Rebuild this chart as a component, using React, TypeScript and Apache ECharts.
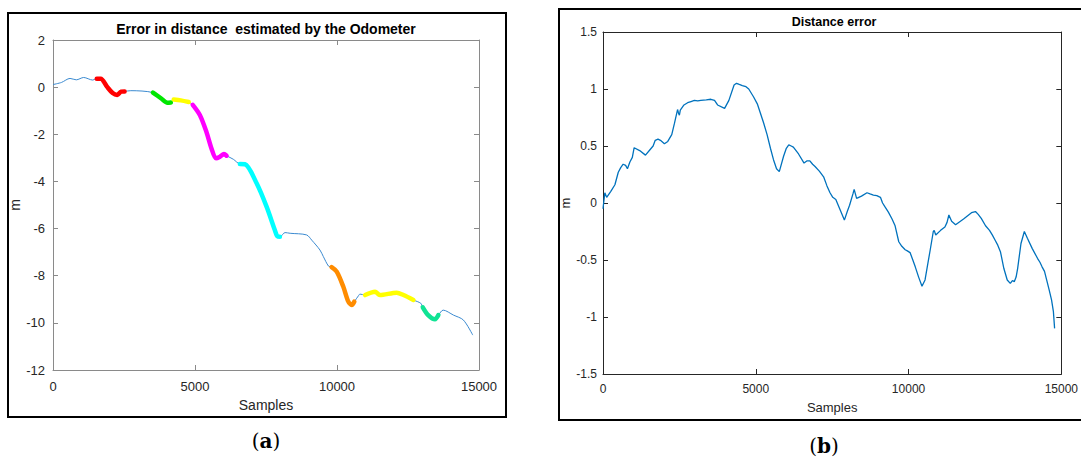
import React, { useEffect, useRef } from "react";
import * as echarts from "echarts";

// ---------- Panel (a): odometer distance error ----------
const leftSamples = [
  0, 300, 600, 820, 1080, 1400, 1540, 1680, 1900, 2100, 2260, 2400, 2520,
  2740, 3520, 3800, 4030, 4150, 4250, 4500, 4780, 4920, 5170, 5400, 5580,
  5740, 5880, 6020, 6110, 6350, 6580, 6760, 7170, 7520, 7810, 7900, 7990,
  8170, 8350, 8930, 9110, 9400, 9520, 9700, 9810, 9990, 10220, 10400, 10520,
  10610, 10750, 10810, 10990, 11340, 11510, 12100, 12340, 12690, 12950,
  13020, 13210, 13450, 13570, 13740, 14100, 14450, 14780,
];
const leftError = [
  0.11, 0.2, 0.37, 0.31, 0.41, 0.3, 0.36, 0.36, 0.02, -0.25, -0.33, -0.19, -0.18,
  -0.15, -0.23, -0.47, -0.66, -0.65, -0.52, -0.56, -0.63, -0.75, -1.18, -1.89, -2.6,
  -3.02, -2.95, -2.84, -2.91, -3.06, -3.26, -3.27, -4.08, -5.07, -6.06, -6.33, -6.35,
  -6.17, -6.2, -6.27, -6.49, -6.91, -7.19, -7.59, -7.64, -7.83, -8.46, -9.1, -9.24,
  -9.1, -8.86, -8.78, -8.82, -8.68, -8.82, -8.72, -8.82, -9.03, -9.17,
  -9.34, -9.67, -9.85, -9.67, -9.46, -9.67, -9.88, -10.52,
];
// highlighted stretches of the odometer error (sample ranges)
const segmentStart = [1540, 3520, 4250, 4920, 6580, 9810, 10990, 13020];
const segmentEnd = [2520, 4150, 4780, 6110, 7990, 10610, 12690, 13570];
const segmentColors = [
  "#ff0000", "#00e600", "#ffff00", "#ff00ff", "#00ffff", "#ff8c00", "#ffff00", "#10e394",
];

// ---------- Panel (b): distance error ----------
const rightSamples = [
  0, 60, 120, 250, 390, 500, 580, 660, 740, 800, 880, 960, 1020, 1200, 1390, 1530,
  1640, 1710, 1800, 1880, 2010, 2120, 2250, 2340, 2440, 2470, 2500, 2530, 2650,
  2770, 2880, 2990, 3100, 3200, 3380, 3530, 3650, 3750, 3980, 4120,
  4290, 4370, 4460, 4560, 4680, 4770, 4930, 5050, 5150, 5260, 5370, 5480, 5580,
  5680, 5770, 5910, 6000, 6080, 6160, 6230, 6400, 6580, 6680, 6770, 6860, 6940,
  7080, 7220, 7330, 7430, 7520, 7620, 7760, 7900, 8000, 8070, 8180, 8220, 8300,
  8460, 8640, 8740, 8850, 8960, 9080, 9150, 9220, 9340, 9460, 9560, 9680, 9780,
  9890, 9960, 10050, 10140, 10220, 10330, 10440, 10540, 10620, 10710, 10810,
  10840, 10890, 11050, 11190, 11260, 11320, 11410, 11540, 11800, 12060, 12190,
  12280, 12380, 12520, 12650, 12740, 12830, 12920, 13010, 13120, 13230, 13330,
  13400, 13460, 13520, 13570, 13680, 13790, 13890, 14050, 14220, 14300, 14370,
  14450, 14520, 14600, 14680, 14740, 14780,
];
const rightError = [
  -0.05, 0.09, 0.05, 0.1, 0.16, 0.27, 0.31, 0.34, 0.33, 0.3, 0.36, 0.4, 0.485, 0.46, 0.42, 0.465,
  0.5, 0.55, 0.56, 0.55, 0.52, 0.54, 0.6, 0.7, 0.82, 0.79, 0.77, 0.815, 0.86,
  0.88, 0.89, 0.9, 0.895, 0.9, 0.905, 0.91, 0.9, 0.86, 0.83, 0.9,
  1.035, 1.05, 1.04, 1.03, 1.02, 1.0, 0.93, 0.87, 0.79, 0.7, 0.6, 0.48, 0.38,
  0.3, 0.275, 0.41, 0.48, 0.51, 0.5, 0.49, 0.43, 0.35, 0.37, 0.37, 0.34, 0.32,
  0.28, 0.23, 0.15, 0.09, 0.05, 0.03, -0.06, -0.15, -0.07, -0.02, 0.08, 0.12, 0.04,
  0.06, 0.09, 0.08, 0.07, 0.065, 0.05, 0.0, -0.03, -0.08, -0.14, -0.2, -0.34, -0.38,
  -0.41, -0.42, -0.435, -0.5, -0.56, -0.65, -0.73, -0.675, -0.55, -0.41, -0.25,
  -0.24, -0.28, -0.24, -0.21, -0.17, -0.105, -0.16, -0.19, -0.14, -0.085, -0.075,
  -0.1, -0.135, -0.2, -0.24, -0.28, -0.325, -0.37, -0.43, -0.575, -0.675, -0.705,
  -0.68, -0.69, -0.65, -0.575, -0.355, -0.25, -0.31, -0.4, -0.485, -0.52, -0.56,
  -0.6, -0.675, -0.76, -0.85, -0.95, -1.1,
];

const leftTicks = { min: -12, max: 2, interval: 2 };
const rightTicks = { min: -1.5, max: 1.5, interval: 0.5 };
const sampleTicks = { min: 0, max: 15000, interval: 5000 };

const FONT = "'Liberation Sans', Arial, sans-serif";

export default function App() {
  const ref = useRef<HTMLDivElement>(null);

  useEffect(() => {
    document.body.style.margin = "0";
    if (!ref.current) return;
    const chart = echarts.init(ref.current, null, { renderer: "svg" });

    const leftPts = leftSamples.map((s, i) => [s, leftError[i]]);
    const rightPts = rightSamples.map((s, i) => [s, rightError[i]]);

    const leftAxisColor = "#8a8a8a";
    const rightAxisColor = "#262626";
    const plain = (v: number) => String(v);

    const xBase = (grid: number, pos: "bottom" | "top", color: string, fs: number, margin: number, labels: boolean, nameGap: number) => ({
      type: "value",
      gridIndex: grid,
      position: pos,
      ...sampleTicks,
      axisLine: { show: true, onZero: false, lineStyle: { color, width: 1 } },
      axisTick: { show: true, inside: true, length: 5, lineStyle: { color } },
      axisLabel: {
        show: labels,
        color: "#262626",
        fontSize: fs,
        fontFamily: FONT,
        margin,
        formatter: plain,
        showMaxLabel: true,
        showMinLabel: true,
      },
      splitLine: { show: false },
      name: labels ? "Samples" : "",
      nameLocation: "middle",
      nameGap,
      nameTextStyle: { color: "#262626", fontSize: fs + 1, fontFamily: FONT },
    });

    const yBase = (grid: number, pos: "left" | "right", ticks: any, color: string, fs: number, margin: number, labels: boolean, nameGap: number) => ({
      type: "value",
      gridIndex: grid,
      position: pos,
      ...ticks,
      axisLine: { show: true, onZero: false, lineStyle: { color, width: 1 } },
      axisTick: { show: true, inside: true, length: 5, lineStyle: { color } },
      axisLabel: {
        show: labels,
        color: "#262626",
        fontSize: fs,
        fontFamily: FONT,
        margin,
        formatter: plain,
        showMaxLabel: true,
        showMinLabel: true,
      },
      splitLine: { show: false },
      name: labels ? "m" : "",
      nameLocation: "middle",
      nameRotate: 90,
      nameGap,
      nameTextStyle: { color: "#262626", fontSize: fs + 1, fontFamily: FONT },
    });

    const segSeries = segmentColors.map((c, k) => ({
      type: "line",
      xAxisIndex: 0,
      yAxisIndex: 0,
      showSymbol: false,
      smooth: 0.3,
      data: leftPts.filter((p) => p[0] >= segmentStart[k] && p[0] <= segmentEnd[k]),
      lineStyle: { color: c, width: 4.5, cap: "round", join: "round" },
      z: 3,
    }));

    const label = (txt: string, x: number, y: number) => ({
      type: "text",
      x,
      y,
      style: {
        text: `{p|(}{b|${txt}}{p|)}`,
        align: "center",
        verticalAlign: "middle",
        rich: {
          p: { fontFamily: "'DejaVu Serif', serif", fontSize: 20, fill: "#000" },
          b: { fontFamily: "'DejaVu Serif', serif", fontSize: 20, fontWeight: "bold", fill: "#000" },
        },
      },
    });

    chart.setOption({
      animation: false,
      backgroundColor: "#ffffff",
      grid: [
        { left: 53, top: 40, width: 426, height: 330 },
        { left: 603, top: 32, width: 462, height: 342 },
      ],
      xAxis: [
        xBase(0, "bottom", leftAxisColor, 13, 10, true, 28),
        xBase(0, "top", leftAxisColor, 13, 10, false, 0),
        xBase(1, "bottom", rightAxisColor, 12, 9, true, 27),
        xBase(1, "top", rightAxisColor, 12, 9, false, 0),
      ],
      yAxis: [
        yBase(0, "left", leftTicks, leftAxisColor, 13, 8, true, 30),
        yBase(0, "right", leftTicks, leftAxisColor, 13, 8, false, 0),
        yBase(1, "left", rightTicks, rightAxisColor, 12, 6, true, 29),
        yBase(1, "right", rightTicks, rightAxisColor, 12, 6, false, 0),
      ],
      series: [
        {
          type: "line",
          xAxisIndex: 0,
          yAxisIndex: 0,
          showSymbol: false,
          smooth: 0.3,
          data: leftPts,
          lineStyle: { color: "#3b8ad0", width: 1 },
          z: 2,
        },
        ...segSeries,
        {
          type: "line",
          xAxisIndex: 2,
          yAxisIndex: 2,
          showSymbol: false,
          data: rightPts,
          lineStyle: { color: "#0072bd", width: 1.3 },
          z: 2,
        },
      ],
      graphic: [
        {
          type: "rect",
          shape: { x: 8, y: 13, width: 498, height: 404 },
          style: { fill: "none", stroke: "#000", lineWidth: 2 },
          z: 10,
        },
        {
          type: "rect",
          shape: { x: 559, y: 9, width: 540, height: 411 },
          style: { fill: "none", stroke: "#000", lineWidth: 2 },
          z: 10,
        },
        {
          type: "text",
          x: 266,
          y: 29,
          style: {
            text: "Error in distance  estimated by the Odometer",
            font: `bold 14px ${FONT}`,
            fill: "#000",
            align: "center",
            verticalAlign: "middle",
          },
        },
        {
          type: "text",
          x: 834,
          y: 22,
          style: {
            text: "Distance error",
            font: `bold 12.5px ${FONT}`,
            fill: "#000",
            align: "center",
            verticalAlign: "middle",
          },
        },
        label("a", 266, 441),
        label("b", 824, 446),
      ],
    });

    return () => chart.dispose();
  }, []);

  return <div ref={ref} style={{ width: 1081, height: 457 }} />;
}
